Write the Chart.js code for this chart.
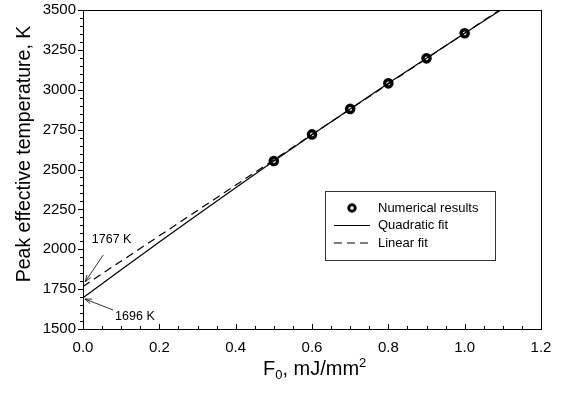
<!DOCTYPE html>
<html>
<head>
<meta charset="utf-8">
<script src="https://cdn.jsdelivr.net/npm/chart.js@4.4.0/dist/chart.umd.min.js"></script>
<style>
    html, body { margin: 0; padding: 0; background: #fff; }
    #wrap { width: 565px; height: 393px; }
</style>
</head>
<body>
<div id="wrap"><canvas id="tempChart"></canvas></div>
<script>
// Dados
const fluence = [0.5, 0.6, 0.7, 0.8, 0.9, 1.0];
const peakTemp = [2553, 2720, 2880, 3040, 3197, 3354];

// Ajuste quadrático
const quadX = [0.0, 0.1, 0.2, 0.3, 0.4, 0.5, 0.6, 0.7, 0.8, 0.9, 1.0, 1.1];
const quadY = [1696, 1872, 2046, 2217, 2386, 2553, 2718, 2880, 3040, 3197, 3354, 3508];

// Ajuste linear
const linX = [0.0, 1.1];
const linY = [1767, 3513];

const xTicks = [0.0, 0.2, 0.4, 0.6, 0.8, 1.0, 1.2];
const yTicks = [1500, 1750, 2000, 2250, 2500, 2750, 3000, 3250, 3500];

const legendLabels = ['Numerical results', 'Quadratic fit', 'Linear fit'];
const annotLabels = ['1767 K', '1696 K'];

const FONT = "'Liberation Sans', Arial, sans-serif";

function toPoints(xs, ys) {
    return xs.map((x, i) => ({ x: x, y: ys[i] }));
}

// Molduras, ticks, títulos, legenda e anotações
const decorPlugin = {
    id: 'decor',
    afterDraw(chart) {
        const ctx = chart.ctx;
        const a = chart.chartArea;
        const xs = chart.scales.x;
        const ys = chart.scales.y;
        ctx.save();
        ctx.strokeStyle = '#000';
        ctx.lineWidth = 1;
        ctx.strokeRect(a.left + 0.5, a.top + 0.5, a.right - a.left, a.bottom - a.top);

        // ticks do eixo y (para fora)
        for (let v = 1500; v <= 3500; v += 50) {
            const py = Math.round(ys.getPixelForValue(v)) + 0.5;
            const len = v % 250 === 0 ? 5 : 3;
            ctx.beginPath();
            ctx.moveTo(a.left, py);
            ctx.lineTo(a.left - len, py);
            ctx.stroke();
        }
        // ticks do eixo x (para dentro)
        for (let i = 0; i <= 24; i++) {
            const v = i * 0.05;
            const px = Math.round(xs.getPixelForValue(v)) + 0.5;
            const len = i % 4 === 0 ? 5 : 3;
            ctx.beginPath();
            ctx.moveTo(px, a.bottom);
            ctx.lineTo(px, a.bottom - len);
            ctx.stroke();
        }

        // título eixo y
        ctx.fillStyle = '#000';
        ctx.font = '19.5px ' + FONT;
        ctx.save();
        ctx.translate(30, 154);
        ctx.rotate(-Math.PI / 2);
        ctx.textAlign = 'center';
        ctx.textBaseline = 'alphabetic';
        ctx.fillText('Peak effective temperature, K', 0, 0);
        ctx.restore();

        // título eixo x com subscrito e sobrescrito
        ctx.textAlign = 'left';
        ctx.textBaseline = 'alphabetic';
        let tx = 263, ty = 375;
        ctx.font = '20px ' + FONT;
        ctx.fillText('F', tx, ty);
        tx += ctx.measureText('F').width;
        ctx.font = '13px ' + FONT;
        ctx.fillText('0', tx, ty + 4);
        tx += ctx.measureText('0').width;
        ctx.font = '20px ' + FONT;
        ctx.fillText(', mJ/mm', tx, ty);
        tx += ctx.measureText(', mJ/mm').width;
        ctx.font = '13px ' + FONT;
        ctx.fillText('2', tx, ty - 8);

        // legenda
        ctx.lineWidth = 1;
        ctx.strokeStyle = '#333';
        ctx.strokeRect(325.5, 191.5, 170, 69);
        ctx.strokeStyle = '#000';
        ctx.font = '13px ' + FONT;
        ctx.textBaseline = 'middle';
        const rows = [208, 225.5, 243];
        ctx.beginPath();
        ctx.arc(352, rows[0], 3.2, 0, Math.PI * 2);
        ctx.lineWidth = 3;
        ctx.stroke();
        ctx.lineWidth = 1.2;
        ctx.beginPath();
        ctx.moveTo(334, rows[1]);
        ctx.lineTo(370, rows[1]);
        ctx.stroke();
        ctx.setLineDash([8, 5]);
        ctx.beginPath();
        ctx.moveTo(334, rows[2]);
        ctx.lineTo(370, rows[2]);
        ctx.stroke();
        ctx.setLineDash([]);
        legendLabels.forEach((t, i) => ctx.fillText(t, 378, rows[i]));

        // anotações com setas
        const arrow = (x1, y1, x2, y2) => {
            const p1 = { x: xs.getPixelForValue(x1), y: ys.getPixelForValue(y1) };
            const p2 = { x: xs.getPixelForValue(x2), y: ys.getPixelForValue(y2) };
            ctx.lineWidth = 0.8;
            ctx.beginPath();
            ctx.moveTo(p1.x, p1.y);
            ctx.lineTo(p2.x, p2.y);
            ctx.stroke();
            const ang = Math.atan2(p2.y - p1.y, p2.x - p1.x);
            const hl = 7, hw = 0.35;
            ctx.beginPath();
            ctx.moveTo(p2.x - hl * Math.cos(ang - hw), p2.y - hl * Math.sin(ang - hw));
            ctx.lineTo(p2.x, p2.y);
            ctx.lineTo(p2.x - hl * Math.cos(ang + hw), p2.y - hl * Math.sin(ang + hw));
            ctx.stroke();
        };
        arrow(0.053, 1964, 0.006, 1797);
        arrow(0.079, 1619, 0.005, 1688);
        ctx.font = '12.5px ' + FONT;
        ctx.textAlign = 'center';
        ctx.fillText(annotLabels[0], xs.getPixelForValue(0.075), ys.getPixelForValue(2058));
        ctx.fillText(annotLabels[1], xs.getPixelForValue(0.136), ys.getPixelForValue(1575));
        ctx.restore();
    }
};

const ctx = document.getElementById('tempChart').getContext('2d');
const tempChart = new Chart(ctx, {
    type: 'scatter',
    data: {
        datasets: [
            {
                label: legendLabels[1],
                data: toPoints(quadX, quadY),
                showLine: true,
                borderColor: '#000',
                borderWidth: 1.2,
                pointRadius: 0,
                tension: 0
            },
            {
                label: legendLabels[2],
                data: toPoints(linX, linY),
                showLine: true,
                borderColor: '#000',
                borderWidth: 1.2,
                borderDash: [8, 5],
                pointRadius: 0
            },
            {
                label: legendLabels[0],
                data: toPoints(fluence, peakTemp),
                showLine: false,
                pointRadius: 3.6,
                pointBorderWidth: 3.4,
                pointBackgroundColor: '#fff',
                pointBorderColor: '#000'
            }
        ]
    },
    options: {
        responsive: true,
        maintainAspectRatio: false,
        animation: false,
        layout: { padding: { top: 10, right: 24, left: 0, bottom: 0 } },
        plugins: {
            legend: { display: false },
            tooltip: { enabled: false }
        },
        scales: {
            x: {
                type: 'linear',
                min: 0,
                max: 1.2,
                afterBuildTicks: (scale) => { scale.ticks = xTicks.map(v => ({ value: v })); },
                afterFit: (scale) => {
                    scale.height = 64;
                    scale.paddingLeft = 0;
                    scale.paddingRight = 0;
                },
                grid: { display: false, drawTicks: false },
                border: { display: false },
                ticks: {
                    color: '#000',
                    font: { family: FONT, size: 15 },
                    padding: 10,
                    maxRotation: 0,
                    callback: (v) => v.toFixed(1)
                }
            },
            y: {
                type: 'linear',
                min: 1500,
                max: 3500,
                afterBuildTicks: (scale) => { scale.ticks = yTicks.map(v => ({ value: v })); },
                afterFit: (scale) => {
                    scale.width = 83;
                    scale.paddingTop = 0;
                    scale.paddingBottom = 0;
                },
                grid: { display: false, drawTicks: false },
                border: { display: false },
                ticks: {
                    color: '#000',
                    font: { family: FONT, size: 15 },
                    padding: 7,
                    callback: (v) => String(v)
                }
            }
        }
    },
    plugins: [decorPlugin]
});
</script>
</body>
</html>
